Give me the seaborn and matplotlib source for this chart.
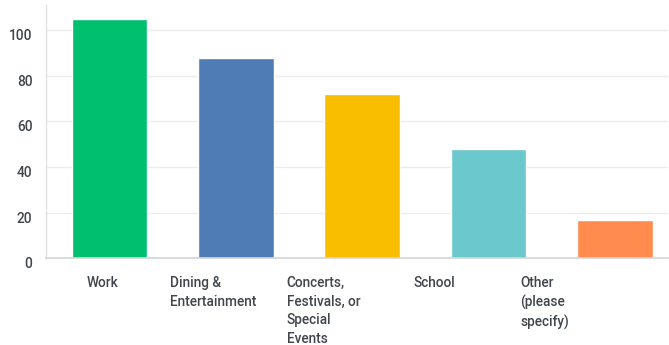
import matplotlib
matplotlib.use("Agg")
import matplotlib.pyplot as plt
from matplotlib.transforms import ScaledTranslation
import seaborn as sns
import pandas as pd

# data
categories = ["Work", "Dining &\nEntertainment", "Concerts,\nFestivals, or\nSpecial\nEvents",
              "School", "Other\n(please\nspecify)"]
values = [105, 88, 72, 48, 17]
colors = ["#00BF6F", "#507CB6", "#F9BE00", "#6BC8CD", "#FF8B4F"]
yticks = [0, 20, 40, 60, 80, 100]

df = pd.DataFrame({"category": categories, "value": values})

sns.set_style("white")
plt.rcParams["font.family"] = ["Roboto", "DejaVu Sans"]

fig = plt.figure(figsize=(6.69, 3.45), dpi=100)
ax = fig.add_axes([0.0692, 0.2513, 0.9293, 0.7351])

sns.barplot(data=df, x="category", y="value", hue="category", palette=colors,
            width=0.6, legend=False, ax=ax, saturation=1)

ax.set_xlim(-0.5, 4.42)
ax.set_ylim(0, 111.2)
ax.set_yticks(yticks)
ax.set_xlabel("")
ax.set_ylabel("")
ax.yaxis.grid(True, color="#ececec", linewidth=1)
ax.set_axisbelow(True)

for side in ["top", "right"]:
    ax.spines[side].set_visible(False)
ax.spines["left"].set_color("#e2e2e2")
ax.spines["bottom"].set_color("#d4d4d4")
ax.spines["left"].set_linewidth(1)
ax.spines["bottom"].set_linewidth(1.2)

ax.tick_params(axis="both", length=0, colors="#41464c", labelsize=9.8)
ax.tick_params(axis="y", pad=10)
ax.tick_params(axis="x", pad=13)

for lab in ax.get_yticklabels():
    lab.set_fontweight("medium")
    lab.set_va("top")
    lab.set_transform(lab.get_transform() + ScaledTranslation(0, 0.01, fig.dpi_scale_trans))

# x labels sit slightly left of the bars, spread more tightly
for i, lab in enumerate(ax.get_xticklabels()):
    lab.set_fontweight("medium")
    lab.set_ha("center")
    lab.set_multialignment("left")
    lab.set_linespacing(1.4)
    dx = (-7 - 15.8 * i) / 100
    lab.set_transform(lab.get_transform() + ScaledTranslation(dx, 0, fig.dpi_scale_trans))

fig.savefig("out.png", dpi=100)
